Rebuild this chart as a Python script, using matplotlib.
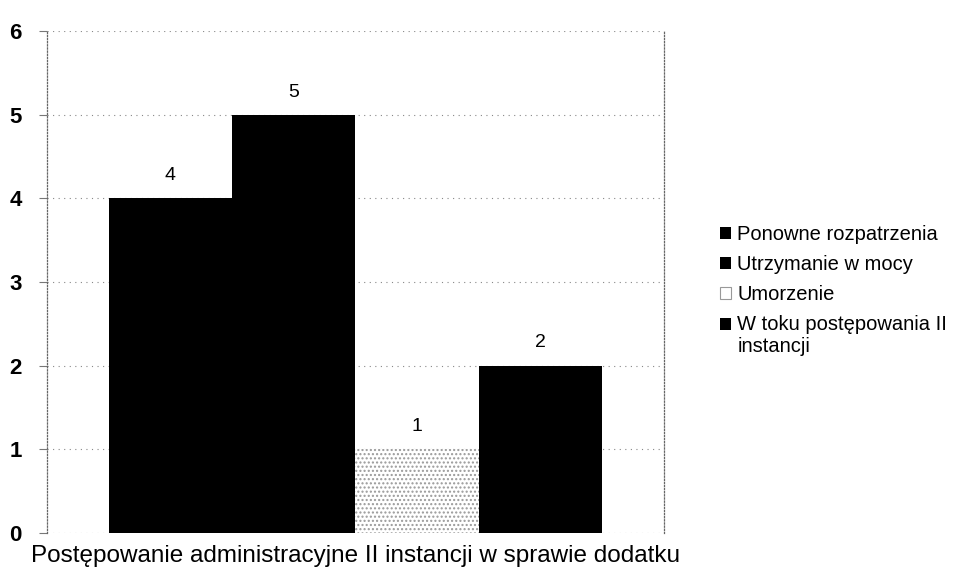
import matplotlib.pyplot as plt

plt.rcParams["font.family"] = ["Liberation Sans", "DejaVu Sans"]

category = "Postępowanie administracyjne II instancji w sprawie dodatku"
series = ["Ponowne rozpatrzenia", "Utrzymanie w mocy", "Umorzenie",
          "W toku postępowania II\ninstancji"]
values = [4, 5, 1, 2]
colors = ["#000000", "#000000", "#ffffff", "#000000"]
hatches = [None, None, "....", None]

fig = plt.figure(figsize=(9.75, 5.78), dpi=100)
ax = fig.add_axes([0.048, 0.078, 0.633, 0.868])

width = 0.2
offsets = [-0.3, -0.1, 0.1, 0.3]
for off, val, name, col, h in zip(offsets, values, series, colors, hatches):
    ax.bar(off, val, width, color=col, label=name, zorder=2,
           edgecolor="#999999" if h else col, linewidth=0, hatch=h)
    ax.text(off, val + 0.17, str(val), ha="center", va="bottom", fontsize=14)

ax.set_xlim(-0.5, 0.5)
ax.set_ylim(0, 6)
ax.set_yticks(range(7))
ax.set_xticks([])
ax.set_xlabel(category, fontsize=17.5, labelpad=9)
ax.yaxis.grid(True, linestyle=(0, (1, 4)), color="#888888", linewidth=0.8, zorder=0)
for side in ["top", "bottom"]:
    ax.spines[side].set_visible(False)
for side in ["left", "right"]:
    ax.spines[side].set_linestyle((0, (1, 1.5)))
    ax.spines[side].set_color("#666666")
    ax.spines[side].set_linewidth(0.9)
ax.tick_params(axis="y", length=6, width=0.8, color="#777777", labelsize=16, pad=12)
for lbl in ax.get_yticklabels():
    lbl.set_fontweight("bold")

leg = fig.legend(loc="center left", bbox_to_anchor=(0.72, 0.497), frameon=False,
                 fontsize=14.5, handlelength=0.55, handleheight=0.55,
                 handletextpad=0.3, labelspacing=0.55)
patches = leg.get_patches()
patches[2].set_edgecolor("#999999")
patches[2].set_linewidth(0.8)
patches[2].set_hatch(None)
# align the last square with the first line of its two-line label
patches[3].set_y(patches[3].get_y() + 8.5)

fig.savefig("out.png", dpi=100)
